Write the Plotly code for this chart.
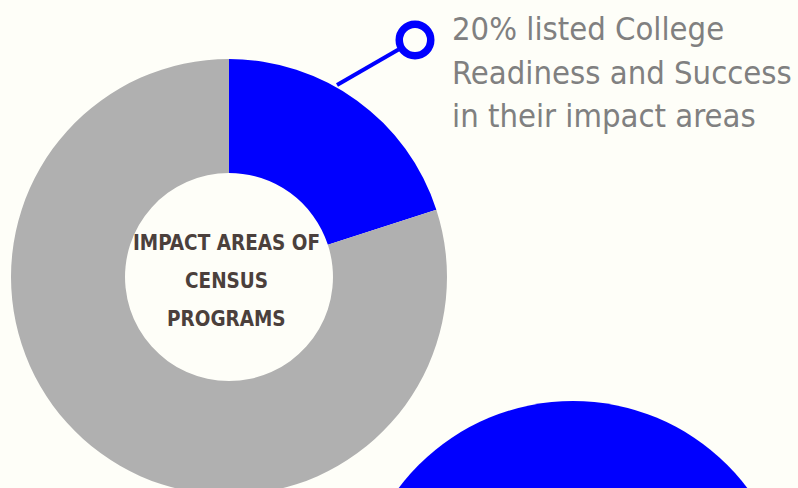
import plotly.graph_objects as go

# ---- data ----
SHARE_LABELS = ["College Readiness and Success", "Other impact areas"]
SHARE_VALUES = [20, 80]
SLICE_COLORS = ["#0000ff", "#b0b0b0"]
CENTER_LINES = ["IMPACT AREAS OF", "CENSUS", "PROGRAMS"]
CALLOUT_LINES = ["20% listed College", "Readiness and Success", "in their impact areas"]

BG = "#fefef8"
W, H = 798, 500  # a bit taller than the window: the donut runs off the bottom edge

fig = go.Figure()
fig.add_trace(go.Pie(
    labels=SHARE_LABELS, values=SHARE_VALUES,
    marker=dict(colors=SLICE_COLORS, line=dict(width=0)),
    hole=0.477, sort=False, direction="clockwise", rotation=0,
    textinfo="none", showlegend=False,
    domain=dict(x=[11 / W, 447 / W], y=[(H - 495) / H, (H - 59) / H]),
))

shapes = []
# next chart of the infographic peeking in at the bottom
shapes.append(dict(type="circle", xref="x", yref="y", x0=573 - 218, x1=573 + 218,
                   y0=619 - 218, y1=619 + 218, fillcolor="#0000ff", line=dict(width=0)))
# callout leader line + ring
cx, cy, rr = 415, 40, 15.75
sx, sy = 337, 85
dx, dy = cx - sx, cy - sy
L = (dx * dx + dy * dy) ** 0.5
ex, ey = sx + dx * (L - 19) / L, sy + dy * (L - 19) / L
shapes.append(dict(type="line", xref="x", yref="y", x0=sx, y0=sy, x1=ex, y1=ey,
                   line=dict(color="#0000ff", width=4)))
shapes.append(dict(type="circle", xref="x", yref="y", x0=cx - rr, x1=cx + rr,
                   y0=cy - rr, y1=cy + rr, line=dict(color="#0000ff", width=7.5),
                   fillcolor="rgba(0,0,0,0)"))

annotations = []
NARROW = "DejaVu Sans Condensed, Liberation Sans Narrow, Arial Narrow, sans-serif"
for txt, yc in zip(CALLOUT_LINES, [29, 72.5, 115.5]):
    annotations.append(dict(x=450, y=yc, xref="x", yref="y", text=txt, showarrow=False,
                            xanchor="left", yanchor="middle",
                            font=dict(family=NARROW, size=32.5, color="#808080")))
for txt, yc in zip(CENTER_LINES, [242.5, 281, 319]):
    annotations.append(dict(x=226, y=yc, xref="x", yref="y", text=txt, showarrow=False,
                            xanchor="center", yanchor="middle",
                            font=dict(family=NARROW, size=20.5, color="#4b403c", weight="bold")))

fig.update_layout(
    width=W, height=H, margin=dict(l=0, r=0, t=0, b=0),
    paper_bgcolor=BG, plot_bgcolor=BG,
    xaxis=dict(range=[0, W], visible=False, fixedrange=True),
    yaxis=dict(range=[H, 0], visible=False, fixedrange=True),
    shapes=shapes, annotations=annotations, showlegend=False,
)

fig.write_html(
    "out.html",
    config={"displayModeBar": False},
    post_script="document.documentElement.style.overflow='hidden';"
                "document.body.style.overflow='hidden';document.body.style.margin='0';",
)
